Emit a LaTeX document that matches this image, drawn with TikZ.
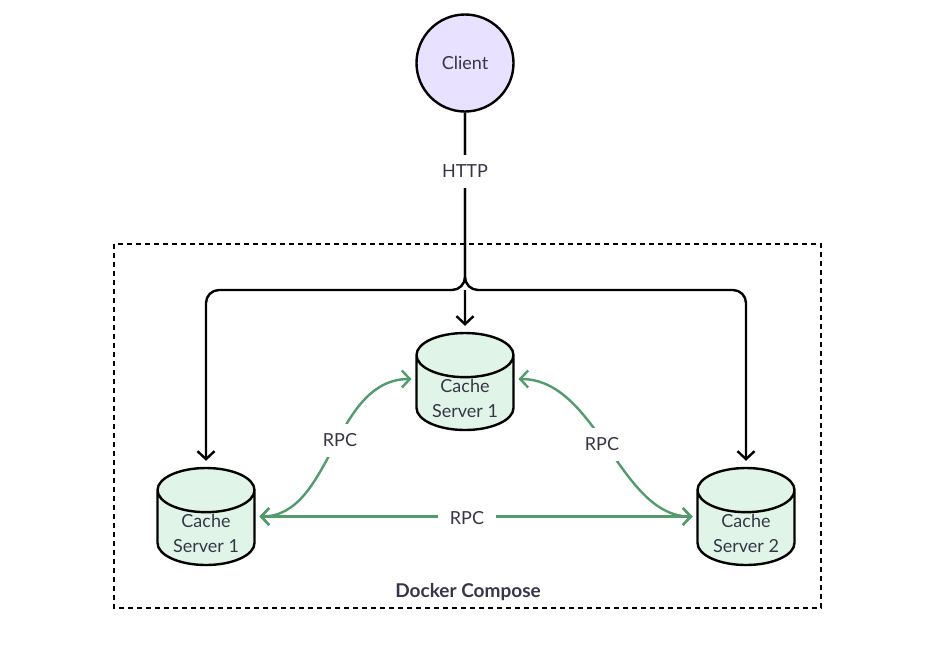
\documentclass[tikz,border=0pt]{standalone}
\usepackage{fontspec}
\setmainfont{Lato}
\usetikzlibrary{arrows.meta}
\usetikzlibrary{shapes.geometric}

\definecolor{inkgray}{HTML}{363648}
\definecolor{clientfill}{HTML}{E8E1FF}
\definecolor{serverfill}{HTML}{E0F5E7}
\definecolor{rpcgreen}{HTML}{529B6C}

\tikzset{
  labeltext/.style={text=inkgray, font=\fontsize{18}{25}\selectfont, align=center},
  clientnode/.style={circle, draw=black, line width=2.4pt, fill=clientfill, minimum size=97pt, inner sep=0pt, labeltext},
  cachenode/.style={cylinder, shape border rotate=90, aspect=.67, anchor=shape center, draw=black, line width=2.4pt, fill=serverfill, minimum width=97pt, minimum height=97pt, inner sep=0pt, labeltext},
  cachetext/.style={labeltext, yshift=-5pt},
  edgelabel/.style={fill=white, inner xsep=6pt, inner ysep=10pt, labeltext},
  httplink/.style={draw=black, line width=2.4pt, -{Straight Barb[length=8pt,width=17pt]}, rounded corners=13pt},
  rpclink/.style={draw=rpcgreen, line width=2.4pt, {Straight Barb[length=8pt,width=17pt]}-{Straight Barb[length=8pt,width=17pt]}, shorten <=5pt, shorten >=5pt},
}

\begin{document}
\begin{tikzpicture}[x=1pt,y=-1pt]
\useasboundingbox (0,0) rectangle (933,657);
\draw[line width=2pt, dash pattern=on 5pt off 4pt] (114,244) rectangle (821,608);
\node[clientnode] (client) at (465,63) {Client};
\node[cachenode, label={[cachetext]center:Cache\\Server 1}] (cacheTop) at (465,381.5) {\hphantom{Server 1}};
\node[cachenode, label={[cachetext]center:Cache\\Server 1}] (cacheLeft) at (206,516.5) {\hphantom{Server 1}};
\node[cachenode, label={[cachetext]center:Cache\\Server 2}] (cacheRight) at (746,516.5) {\hphantom{Server 1}};
\coordinate (hub) at (465,290);
\coordinate (topWest) at ([shift={(-48.5,-2.5)}]cacheTop.shape center);
\coordinate (topEast) at ([shift={(48.5,-2.5)}]cacheTop.shape center);
\coordinate (leftEast) at ([xshift=48.5pt]cacheLeft.shape center);
\coordinate (rightWest) at ([xshift=-48.5pt]cacheRight.shape center);
\draw[httplink, shorten >=6pt] (client) -- (hub) -| (cacheLeft);
\draw[httplink, shorten >=6pt] (client) -- (hub) -| (cacheRight);
\draw[httplink, shorten >=6pt] (hub) -- (cacheTop);
\draw[rpclink] (leftEast) .. controls +(78,0) and +(-84,0) .. (topWest);
\draw[rpclink] (topEast) .. controls +(84,0) and +(-78,0) .. (rightWest);
\draw[rpclink] (leftEast) -- (rightWest);
\node[edgelabel] (http) at (465,171.5) {HTTP};
\node[edgelabel] (rpcLeft) at (340,440.5) {RPC};
\node[edgelabel] (rpcRight) at (602,444.5) {RPC};
\node[edgelabel, inner xsep=12pt] (rpcBottom) at (467,518.5) {RPC};
\node[labeltext, font=\fontsize{19}{25}\selectfont\bfseries] (compose) at (468,592) {Docker Compose};
\end{tikzpicture}
\end{document}
